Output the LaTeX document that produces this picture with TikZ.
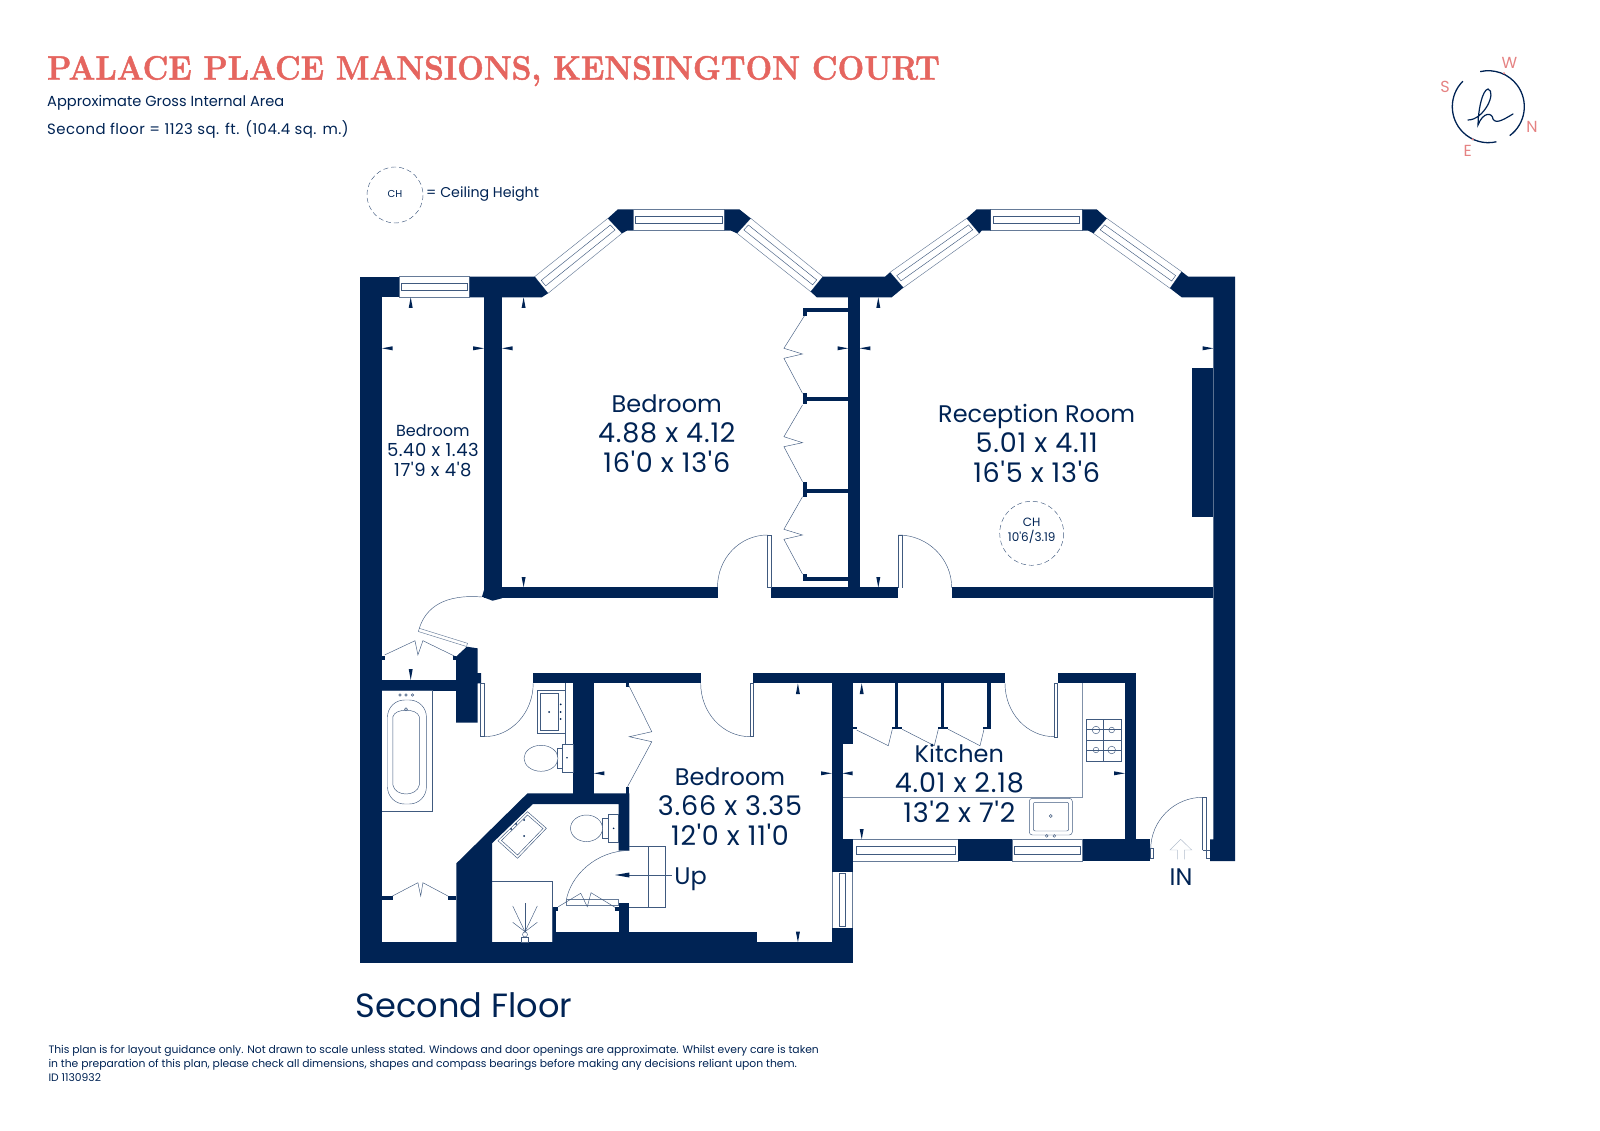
\documentclass[tikz,border=0pt]{standalone}
\usepackage{fontspec}
\newfontfamily\planfont{Poppins}
\newfontfamily\dimfont[LetterSpace = 3]{Poppins}
\newfontfamily\headfont[FakeStretch = 0.9375, FakeBold = 1.4]{Latin Modern Roman}
\usetikzlibrary{calc}
\definecolor{navy}{RGB}{0,35,84}
\definecolor{coral}{RGB}{229,101,95}
\definecolor{softcoral}{RGB}{229,130,130}
\tikzset{
	wall/.style = {fill = navy},
	thinline/.style = {draw = navy!75, line width = 0.45pt},
	glasspane/.style = {draw = navy!60, line width = 0.45pt, fill = white},
	roomlabel/.style = {text = navy, align = center, font = \planfont\fontsize{24}{30}\selectfont},
	smallroom/.style = {text = navy, align = center, font = \planfont\fontsize{16}{20}\selectfont},
	notelabel/.style = {text = navy, anchor = west, inner sep = 0pt, font = \planfont\fontsize{14.6}{14}\selectfont},
	compass/.style = {text = softcoral, font = \planfont\fontsize{16}{16}\selectfont}
}
% the figures in the room labels are larger than the words
\newcommand{\bigdim}[1]{{\dimfont\fontsize{27}{30}\selectfont #1}}
\newcommand{\smalldim}[1]{{\dimfont\fontsize{18}{20}\selectfont #1}}
% a window: outer edge #1 -- #2, inner edge #3 -- #4
\newcommand{\glasswin}[4]{
	\draw[glasspane] (#1) -- (#2) -- (#3) -- (#4) -- cycle;
	\draw[thinline] ($(#1)!.03!(#2)!.33!($(#4)!.03!(#3)$)$) -- ($(#2)!.03!(#1)!.33!($(#3)!.03!(#4)$)$)
		-- ($(#2)!.03!(#1)!.66!($(#3)!.03!(#4)$)$) -- ($(#1)!.03!(#2)!.66!($(#4)!.03!(#3)$)$) -- cycle;
}
\begin{document}
\begin{tikzpicture}[x = 1pt, y = -1pt]
	\useasboundingbox (0, 0) rectangle (1600, 1131);
	% heading
	\node[anchor = west, inner sep = 0pt, text = coral, font = \headfont\bfseries\fontsize{33.7}{34}\selectfont] (title) at (47, 71) {PALACE PLACE MANSIONS, KENSINGTON COURT};
	\node[notelabel] (areatext) at (47, 102.7) {Approximate Gross Internal Area};
	\node[notelabel, font = \dimfont\fontsize{14.9}{14}\selectfont] (floorarea) at (47, 129.8) {Second floor = 1123 sq. ft. (104.4 sq. m.)};
	% compass
	\draw[navy, line width = 1.3pt] (1488.3, 106.7) ++(53.5:36) arc[start angle = 53.5, end angle = -103, radius = 36];
	\draw[navy, line width = 1.3pt] (1488.3, 106.7) ++(225:36) arc[start angle = 225, end angle = 77, radius = 36];
	\fill[softcoral] (1504, 73.3) circle (1.2);
	\fill[softcoral] (1472.7, 139.3) circle (1.2);
	\draw[navy, line width = 1.2pt, line cap = round] (1468, 120) .. controls (1484, 120) and (1497, 92) .. (1488, 89)
		.. controls (1482, 90) and (1478, 112) .. (1478, 125) .. controls (1483, 112) and (1492, 112) .. (1493, 119)
		.. controls (1496, 125) and (1506, 118) .. (1513, 114);
	\node[compass] (north) at (1532, 127.3) {N};
	\node[compass] (south) at (1445, 87.3) {S};
	\node[compass] (east)  at (1467.7, 150.7) {E};
	\node[compass] (west)  at (1509.3, 63.3) {W};
	% ceiling height legend
	\draw[thinline, dashed, dash pattern = on 5pt off 3pt] (395, 195) circle (28);
	\node[text = navy, font = \planfont\fontsize{10}{10}\selectfont] (legendch) at (395, 193.8) {CH};
	\node[notelabel, font = \planfont\fontsize{14.2}{14}\selectfont] (legendtext) at (426, 194.3) {= Ceiling Height};

	% windows
	\glasswin{399, 276.7}{469.6, 276.7}{469.6, 297.3}{399, 297.3}
	\glasswin{534.6, 276.7}{607.9, 218.3}{622, 233.3}{548, 293.3}
	\glasswin{632.9, 209.3}{724.6, 209.3}{724.6, 230.7}{632.9, 230.7}
	\glasswin{750.7, 218.3}{822.9, 276.7}{810.7, 291.7}{737, 233.3}
	\glasswin{890, 272.3}{966.7, 218.3}{979.3, 233.3}{903.3, 287.7}
	\glasswin{990.7, 209.3}{1082.3, 209.3}{1082.3, 230.7}{990.7, 230.7}
	\glasswin{1106.7, 218.3}{1181.7, 271.7}{1170, 288.3}{1093.3, 233.3}
	\glasswin{852.7, 861}{958.3, 861}{958.3, 839.3}{852.7, 839.3}
	\glasswin{1012, 861}{1082.7, 861}{1082.7, 839.3}{1012, 839.3}
	\glasswin{852.5, 871.7}{852.5, 928.3}{831.8, 928.3}{831.8, 871.7}

	% outer walls, top
	\fill[wall] (360.4, 276.7) rectangle (382, 963.3);
	\fill[wall] (360.4, 276.7) rectangle (399, 297.3);
	\fill[wall] (469.6, 276.7) -- (534.6, 276.7) -- (548, 293.3) -- (541.8, 297.3) -- (469.6, 297.3) -- cycle;
	\fill[wall] (607.9, 218.3) -- (617.9, 209.3) -- (632.9, 209.3) -- (632.9, 230.7) -- (627, 230.7) -- (622, 233.3) -- cycle;
	\fill[wall] (724.6, 209.3) -- (739.3, 209.3) -- (750.7, 218.3) -- (737, 233.3) -- (731, 230.7) -- (724.6, 230.7) -- cycle;
	\fill[wall] (822.9, 276.7) -- (885, 276.7) -- (890, 272.3) -- (903.3, 287.7) -- (891.7, 297.3) -- (816.8, 297.3) -- (810.7, 291.7) -- cycle;
	\fill[wall] (966.7, 218.3) -- (976.7, 209.3) -- (990.7, 209.3) -- (990.7, 230.7) -- (981.7, 230.7) -- (979.3, 233.3) -- cycle;
	\fill[wall] (1082.3, 209.3) -- (1096.7, 209.3) -- (1106.7, 218.3) -- (1093.3, 233.3) -- (1088.3, 230.7) -- (1082.3, 230.7) -- cycle;
	\fill[wall] (1181.7, 271.7) -- (1188.3, 276.7) -- (1235, 276.7) -- (1235, 861) -- (1210, 861) -- (1210, 839.3) -- (1213.3, 839.3) -- (1213.3, 297.3) -- (1181.7, 297.3) -- (1170, 288.3) -- cycle;
	% chimney breast
	\fill[wall] (1192.3, 368.3) rectangle (1213.3, 517.3);
	% inner walls, upper rooms
	\fill[wall] (484, 297) rectangle (502, 598.3);
	\fill[wall] (482, 596.7) -- (484, 590) -- (502, 590) -- (502, 598.3) -- (492.5, 600.7) -- cycle;
	\fill[wall] (502, 587.3) rectangle (717.5, 598.3);
	\fill[wall] (771.4, 587.3) rectangle (898.3, 598.3);
	\fill[wall] (951.7, 587.3) rectangle (1213.3, 598.3);
	\fill[wall] (848.2, 297) rectangle (859.6, 598);
	% wardrobe shelves
	\foreach \sy/\sa/\ta/\tb in {308.3/312.3/308.3/316, 397.3/401/393.3/404, 489.3/492.7/481.7/496.7, 577.3/580.7/574/581.3} {
		\fill[wall] (806, \sy) rectangle (848.2, \sa);
		\fill[wall] (802.5, \ta) rectangle (807, \tb);
	}
	\draw[thinline] (804.3, 316) -- (783.9, 348.3) -- (802.5, 354) -- (783.9, 358.3) -- (802.5, 393.3);
	\draw[thinline] (802.5, 405) -- (783.9, 436.7) -- (802.5, 442.7) -- (783.9, 446.7) -- (802.5, 481.7);
	\draw[thinline] (802.5, 496.7) -- (783.9, 529.3) -- (802.5, 535) -- (783.9, 539.3) -- (802.5, 574);

	% hall cupboard and lower left walls
	\fill[wall] (382, 680) rectangle (456, 690.7);
	\fill[wall] (456, 656.7) -- (466.8, 646.7) -- (477.5, 648.3) -- (477.5, 673) -- (481, 673) -- (481, 683.3) -- (477.5, 683.3) -- (477.5, 722.7) -- (456, 722.7) -- cycle;
	\fill[wall] (382, 656) rectangle (385, 659.5);
	\fill[wall] (453, 656) rectangle (456, 659.5);
	\draw[thinline] (384.6, 655) -- (415, 640.7) -- (417.9, 655) -- (422.9, 640.7) -- (454.3, 656);
	\draw[glasspane] (419.3, 628.3) -- (467.5, 643.3) -- (466.5, 646.5) -- (418.3, 631.5) -- cycle;
	\draw[thinline] (419.3, 628.3) .. controls (426, 607) and (445, 594) .. (482, 597);
	\fill[wall] (382, 896) rectangle (392.5, 900);
	\fill[wall] (447.9, 896) rectangle (456.4, 900);
	\draw[thinline] (392.5, 896) -- (417.9, 882.7) -- (420.7, 896) -- (422.9, 882.7) -- (447.9, 896);
	% bathroom walls
	\fill[wall] (533.2, 672.7) rectangle (700.7, 683.3);
	\fill[wall] (753.2, 672.7) rectangle (1005, 683.3);
	\fill[wall] (1057.7, 672.7) rectangle (1136, 683.3);
	\fill[wall] (572.9, 683) rectangle (593.9, 793.5);
	\fill[wall] (527.5, 793.3) -- (629.3, 793.3) -- (629.3, 850.7) -- (618.6, 850.7) -- (618.6, 804) -- (532.9, 804) -- (492, 843.3) -- (492, 942.3) -- (456.4, 942.3) -- (456.4, 863.3) -- cycle;
	\fill[wall] (626.4, 786.7) rectangle (629.3, 794);
	\fill[wall] (626.4, 683) rectangle (629.3, 686.5);
	% outer walls, bottom
	\fill[wall] (360.4, 942.3) rectangle (852.5, 963.3);
	\fill[wall] (555.7, 931.7) rectangle (757, 942.5);
	\fill[wall] (831.8, 928.3) rectangle (852.5, 963.3);
	\fill[wall] (552, 907.3) rectangle (555.7, 942.5);
	\fill[wall] (552, 907.3) rectangle (558.3, 910.7);
	\fill[wall] (618.7, 903.3) rectangle (629.3, 932);
	\fill[wall] (615, 907.3) rectangle (618.9, 910.7);
	% kitchen walls
	\fill[wall] (831.8, 683) rectangle (852.5, 744);
	\fill[wall] (831.8, 744) rectangle (842.5, 839.5);
	\fill[wall] (831.8, 839.3) rectangle (852.5, 871.7);
	\fill[wall] (1125, 683) rectangle (1136, 839.5);
	\fill[wall] (958.3, 839.3) rectangle (1012, 861);
	\fill[wall] (1082.7, 839.3) rectangle (1150, 861);
	% kitchen cupboards
	\foreach \cx in {895, 941, 987.3} {
		\fill[wall] (\cx, 683) rectangle (\cx + 3.4, 728.3);
	}
	\fill[wall] (852.5, 726.7) rectangle (856.7, 729.3);
	\fill[wall] (891.7, 726.7) rectangle (902, 729.3);
	\fill[wall] (937.7, 726.7) rectangle (948, 729.3);
	\fill[wall] (983, 726.7) rectangle (990.7, 729.3);
	\draw[thinline] (856.7, 730) -- (888.3, 745.7) -- (892.3, 729.3);
	\draw[thinline] (902.3, 729.3) -- (934.3, 745.7) -- (938.3, 729.3);
	\draw[thinline] (948.3, 729.3) -- (980, 745.7) -- (984, 729.3);
	\draw[thinline, draw = navy!50] (1082.3, 683.3) -- (1082.3, 797.3) -- (842.7, 797.3);

	% doors
	\draw[thinline] (767.5, 587.3) -- (767.5, 535) -- (771.4, 535) -- (771.4, 587.3) -- cycle;
	\draw[thinline] (767.5, 535) .. controls (740, 535) and (717.5, 558) .. (717.5, 587.3);
	\draw[thinline] (898.3, 587.7) -- (898.3, 535) -- (902.3, 535) -- (902.3, 587.7);
	\draw[thinline] (898.3, 535) .. controls (927.7, 535) and (951.7, 558.6) .. (951.7, 587.7);
	\draw[thinline] (480.4, 683.3) rectangle (484.6, 736.7);
	\draw[thinline] (484, 736.7) .. controls (511, 736.7) and (533.2, 713) .. (533.2, 683.3);
	\draw[thinline] (750, 683.3) rectangle (753.6, 736.7);
	\draw[thinline] (700.7, 683.3) .. controls (700.7, 713) and (723, 736.7) .. (750, 736.7);
	\draw[thinline] (1054.3, 683.3) rectangle (1057.7, 737);
	\draw[thinline] (1005, 683.3) .. controls (1005, 713) and (1027, 736.7) .. (1054.3, 736.7);
	\draw[thinline] (1202.7, 850) -- (1202.7, 797.3) -- (1206.7, 797.3) -- (1206.7, 858.3) -- (1210, 858.3);
	\draw[thinline] (1202.7, 850) -- (1210, 850);
	\draw[thinline] (1202.7, 797.3) .. controls (1174, 797.3) and (1150.7, 820.7) .. (1150.7, 849.3);
	\draw[thinline] (1150.5, 848) rectangle (1153.7, 858);
	\draw[thinline] (629.3, 850.5) .. controls (597, 850.5) and (570, 875) .. (566, 901.7);
	\draw[glasspane] (566, 899.3) rectangle (618.3, 905);
	% cupboards by the stairs
	\draw[thinline] (558.3, 906.7) -- (580.7, 893.3) -- (587.3, 906.7) -- (591, 892.7) -- (615, 907.3);
	% wardrobe, lower bedroom
	\draw[thinline] (628.6, 685) -- (651.8, 731.7) -- (629.3, 736.7) -- (651.8, 741.7) -- (627.5, 786.7);
	% stairs
	\draw[thinline] (629.3, 846.7) -- (665, 846.7) -- (665, 907.3) -- (629.3, 907.3);
	\draw[thinline] (647.9, 846.7) -- (647.9, 907.3);
	\draw[thinline] (629.3, 875) -- (672, 875);
	\fill[wall] (615, 875) -- (629.3, 872.5) -- (629.3, 877.5) -- cycle;

	% bath
	\draw[thinline] (382, 690.7) -- (431.8, 690.7) -- (431.8, 811.7) -- (382, 811.7);
	\draw[thinline, rounded corners = 17pt] (387.5, 700) rectangle (426.4, 804);
	\draw[thinline] (392.9, 716.7) .. controls (395, 708) and (417, 708) .. (419.3, 716.7);
	\draw[thinline] (392.9, 716.7) -- (392.9, 785) .. controls (395, 797) and (417, 797) .. (419.3, 785) -- (419.3, 716.7);
	\foreach \hx in {400, 406, 412.5} {
		\draw[thinline] (\hx, 695) circle (1.2);
	}
	\draw[thinline] (406, 709.3) circle (1.5);
	% basins
	\draw[thinline] (565.7, 683.3) -- (565.7, 744);
	\draw[thinline] (537.5, 690.7) rectangle (565.7, 733.3);
	\draw[thinline] (540, 693.3) rectangle (558.6, 730.7);
	\foreach \dx/\dy in {549/712, 560.7/704.3, 560.7/712, 560.7/719} {
		\fill[wall] (\dx, \dy) circle (1);
	}
	\draw[thinline] (527.5, 811.7) -- (546.4, 828.3) -- (517.5, 858.3) -- (497.9, 840.7) -- cycle;
	\draw[thinline] (527.5, 815) -- (543, 828.5) -- (517.5, 855) -- (501.5, 840.5) -- cycle;
	\foreach \dx/\dy in {511/829, 516/824, 524/820, 524/836} {
		\fill[wall] (\dx, \dy) circle (1);
	}
	% toilets
	\draw[thinline] (562.1, 744.3) rectangle (572.9, 772.3);
	\draw[thinline] (557, 748.3) rectangle (562.1, 768.3);
	\draw[thinline, fill = white] (541, 758.3) ellipse (17 and 13);
	\fill[wall] (567, 757.7) circle (0.9);
	\draw[thinline] (607.9, 814.3) rectangle (618.6, 842.7);
	\draw[thinline] (602.5, 818.3) rectangle (607.9, 838.7);
	\draw[thinline, fill = white] (586.5, 828.3) ellipse (16 and 13.3);
	\fill[wall] (613.6, 828.3) circle (0.9);
	% shower
	\draw[thinline] (492, 881.7) -- (552, 881.7) -- (552, 942.3);
	\foreach \px/\py in {512.7/906, 525/902.7, 537.3/906, 512.7/922.3, 537.3/922.3} {
		\draw[thinline] (525, 931.7) -- (\px, \py);
	}
	\draw[thinline] (521.5, 937) rectangle (528.5, 942.3);
	\draw[thinline] (525, 934.5) circle (2.5);
	% kitchen fittings
	\draw[thinline] (1086.7, 719.3) rectangle (1121.7, 761.7);
	\draw[thinline] (1086.7, 740) -- (1121.7, 740);
	\draw[thinline] (1103.3, 719.3) -- (1103.3, 761.7);
	\draw[thinline] (1086.7, 729.7) -- (1121.7, 729.7);
	\draw[thinline] (1086.7, 750) -- (1121.7, 750);
	\draw[thinline] (1096, 730) circle (3.8);
	\draw[thinline] (1111.7, 730) circle (2.8);
	\draw[thinline] (1096, 750) circle (2.8);
	\draw[thinline] (1111.7, 750) circle (3.8);
	\draw[thinline, rounded corners = 3pt] (1029.3, 798.3) rectangle (1072.3, 835);
	\draw[thinline, rounded corners = 2pt] (1033.3, 802.3) rectangle (1068.7, 831);
	\draw[thinline] (1050.7, 816) circle (1.5);
	\draw[thinline] (1046.7, 835.9) circle (1.4);
	\draw[thinline] (1054.3, 835.9) circle (1.4);
	% entrance arrow
	\draw[navy!30, line width = 0.45pt] (1177.3, 859.3) -- (1177.3, 850) -- (1170, 850) -- (1180.7, 839.3) -- (1191.7, 850) -- (1184.3, 850) -- (1184.3, 859.3);

	% ticks on the walls
	\foreach \tx/\ty/\te in {410.7/297.3/308, 523.6/297.3/308, 523.6/587.3/577, 878.3/297.3/308, 878.3/587.7/577, 410.7/680/669, 797.9/683.3/694, 797.9/942.3/931.7, 861.7/683.3/694, 861.7/839.3/829} {
		\fill[wall] (\tx, \ty) -- (\tx - 2, \te) -- (\tx + 2, \te) -- cycle;
	}
	\foreach \ty/\tx/\te in {348.3/382/392.5, 348.3/484/473.2, 348.3/502/512.5, 348.3/848.2/837.5, 348.3/859.6/870.4, 348.3/1213.3/1202.7, 773.3/593.9/604.3, 773.3/831.8/821, 773.3/842.5/852.5, 773.3/1125/1114} {
		\fill[wall] (\tx, \ty) -- (\te, \ty - 2) -- (\te, \ty + 2) -- cycle;
	}

	% room labels
	\node[roomlabel] (bedroomtwo) at (666.8, 433.3) {Bedroom\\\bigdim{4.88 x 4.12}\\\bigdim{16'0 x 13'6}};
	\node[smallroom] (bedroomone) at (432.9, 450.7) {Bedroom\\\smalldim{5.40 x 1.43}\\\smalldim{17'9 x 4'8}};
	\node[roomlabel] (reception) at (1036.7, 443.3) {Reception Room\\\bigdim{5.01 x 4.11}\\\bigdim{16'5 x 13'6}};
	\node[roomlabel] (bedroomthree) at (730, 806.7) {Bedroom\\\bigdim{3.66 x 3.35}\\\bigdim{12'0 x 11'0}};
	\node[roomlabel] (kitchen) at (959.3, 783.3) {Kitchen\\\bigdim{4.01 x 2.18}\\\bigdim{13'2 x 7'2}};
	\draw[thinline, dashed, dash pattern = on 5pt off 3pt] (1031.7, 533.3) circle (32);
	\node[text = navy, align = center, font = \planfont\fontsize{12}{15}\selectfont] (ceiling) at (1031.7, 530.5) {CH\\10'6/3.19};
	\node[text = navy, font = \planfont\fontsize{24}{24}\selectfont] (uplabel) at (690.7, 879.5) {Up};
	\node[text = navy, font = \planfont\fontsize{24}{24}\selectfont] (inlabel) at (1181, 876.7) {IN};
	\node[text = navy, font = \planfont\fontsize{33.6}{34}\selectfont] (floorname) at (464, 1005) {Second Floor};
	% small print
	\node[anchor = north west, inner sep = 0pt, text = navy, align = left, font = \planfont\fontsize{10.77}{14}\selectfont] (smallprint) at (48.3, 1045) {This plan is for layout guidance only. Not drawn to scale unless stated. Windows and door openings are approximate. Whilst every care is taken\\in the preparation of this plan, please check all dimensions, shapes and compass bearings before making any decisions reliant upon them.\\ID 1130932};
\end{tikzpicture}
\end{document}
